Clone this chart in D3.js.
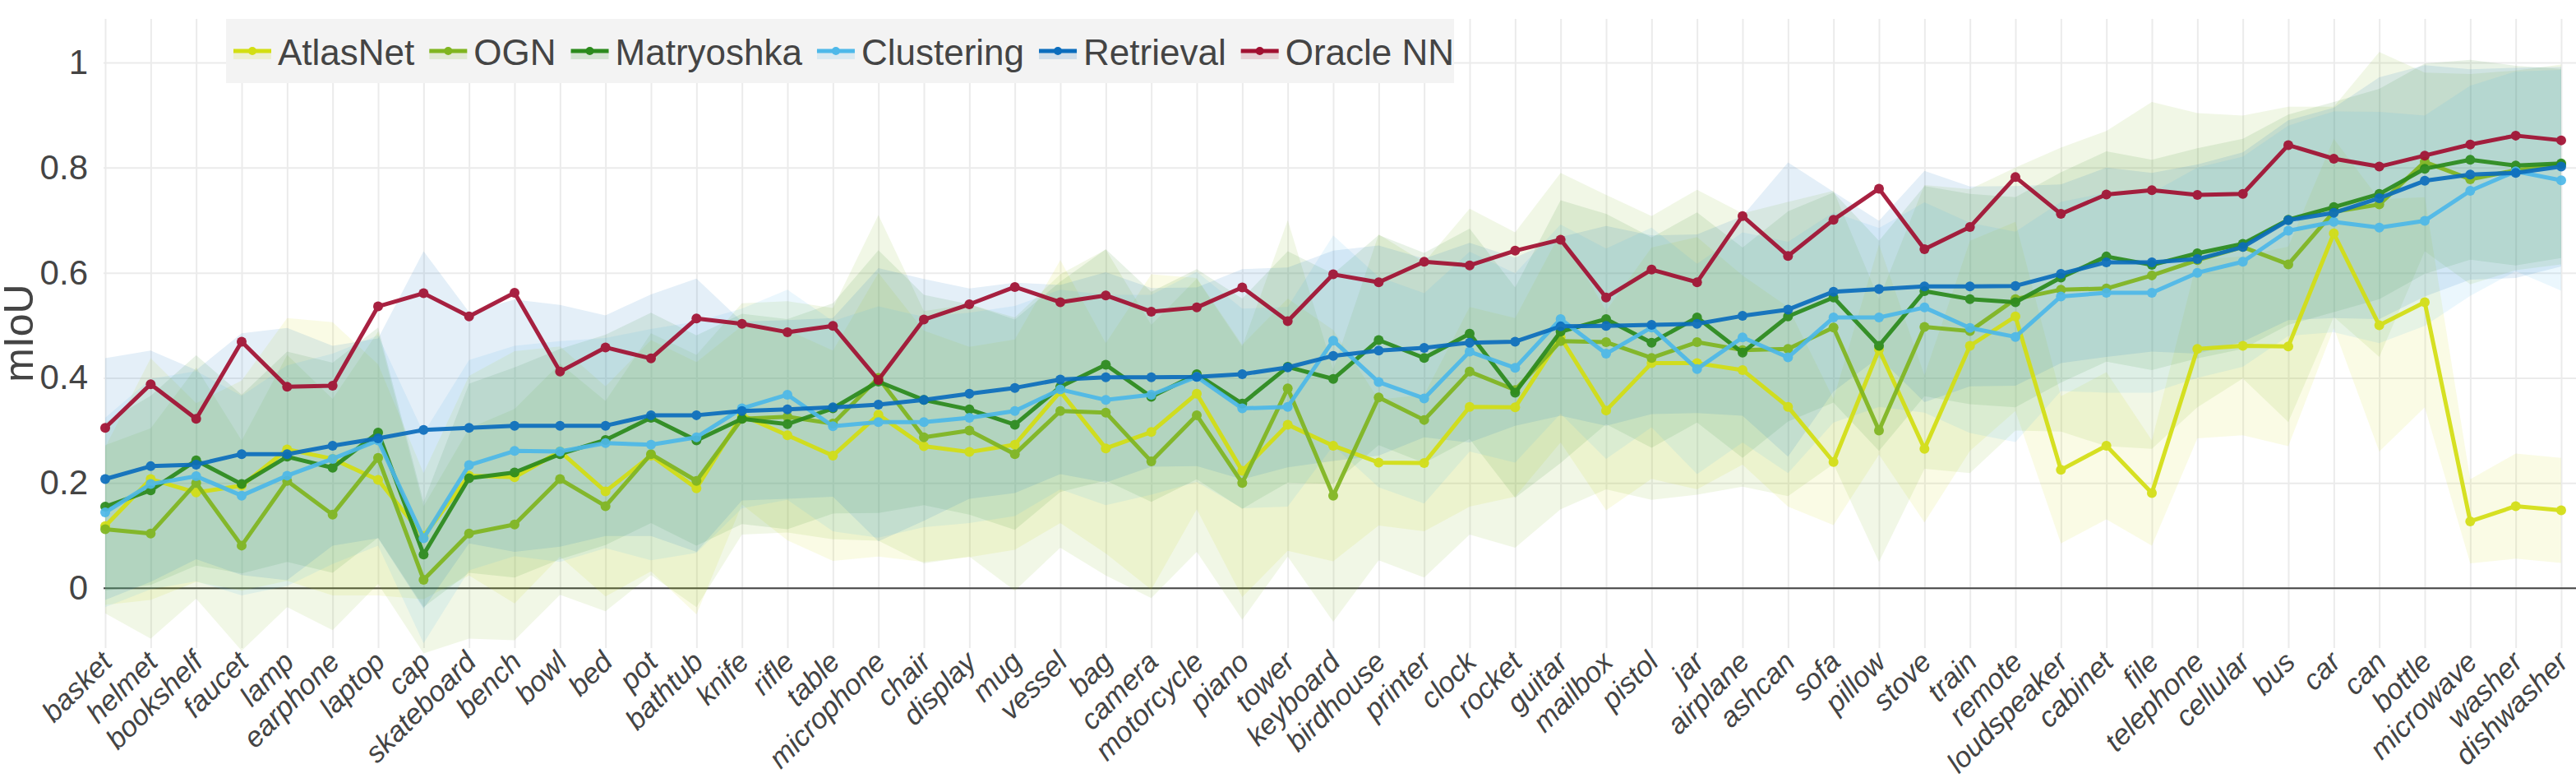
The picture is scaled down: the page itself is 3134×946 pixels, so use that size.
<!DOCTYPE html>
<html>
<head>
<meta charset="utf-8">
<script src="https://cdnjs.cloudflare.com/ajax/libs/d3/7.8.5/d3.min.js"></script>
<style>
  body { margin: 0; background: #fff; }
  svg { font-family: "Liberation Sans", Arial, sans-serif; }
</style>
</head>
<body>
<div id="chart"></div>
<script>
var categories = ['basket', 'helmet', 'bookshelf', 'faucet', 'lamp', 'earphone', 'laptop', 'cap', 'skateboard', 'bench',
    'bowl', 'bed', 'pot', 'bathtub', 'knife', 'rifle', 'table', 'microphone', 'chair', 'display',
    'mug', 'vessel', 'bag', 'camera', 'motorcycle', 'piano', 'tower', 'keyboard', 'birdhouse', 'printer',
    'clock', 'rocket', 'guitar', 'mailbox', 'pistol', 'jar', 'airplane', 'ashcan', 'sofa', 'pillow',
    'stove', 'train', 'remote', 'loudspeaker', 'cabinet', 'file', 'telephone', 'cellular', 'bus', 'car',
    'can', 'bottle', 'microwave', 'washer', 'dishwasher'];

// mean mIoU per category
var atlasnet = [.118, .2075, .182, .195, .264, .246, .206, .099, .214, .211,
    .26, .184, .252, .19, .329, .291, .252, .33, .27, .259,
    .273, .374, .266, .297, .37, .223, .311, .271, .239, .238,
    .345, .344, .477, .338, .428, .428, .415, .345, .24, .454,
    .265, .461, .517, .225, .271, .181, .455, .461, .46, .675,
    .5, .544, .127, .156, .148];
var ogn = [.112, .104, .2, .081, .204, .14, .248, .016, .104, .121,
    .2075, .156, .255, .204, .322, .326, .313, .40, .287, .3,
    .255, .337, .334, .241, .329, .2, .38, .176, .363, .32,
    .412, .377, .47, .468, .438, .468, .453, .455, .496, .3,
    .497, .489, .55, .568, .57, .595, .624, .649, .616, .716,
    .73, .811, .778, .795, .806];
var matryoshka = [.155, .186, .243, .198, .25, .229, .296, .064, .209, .22,
    .255, .282, .324, .281, .322, .312, .342, .393, .358, .34,
    .311, .383, .425, .364, .407, .351, .421, .398, .472, .438,
    .484, .372, .488, .512, .467, .515, .448, .517, .553, .461,
    .565, .55, .544, .591, .631, .615, .637, .655, .701, .725,
    .75, .798, .815, .804, .808];
var clustering = [.144, .198, .213, .176, .214, .246, .281, .095, .234, .261,
    .26, .276, .273, .287, .342, .368, .308, .316, .316, .324,
    .337, .378, .358, .368, .402, .342, .345, .471, .392, .361,
    .45, .419, .512, .446, .496, .417, .477, .439, .515, .515,
    .534, .495, .478, .555, .562, .562, .6, .621, .68, .697,
    .686, .699, .756, .793, .776];
var retrieval = [.2075, .232, .235, .255, .255, .271, .285, .301, .305, .309,
    .309, .309, .329, .329, .337, .34, .344, .349, .358, .37,
    .381, .397, .401, .401, .402, .407, .42, .442, .452, .457,
    .467, .469, .498, .499, .501, .503, .518, .53, .564, .569,
    .574, .574, .575, .598, .62, .62, .626, .649, .7, .714,
    .742, .775, .787, .79, .802];
var oracleNN = [.305, .388, .322, .469, .383, .385, .536, .561, .517, .562,
    .412, .458, .437, .513, .503, .487, .499, .396, .511, .54,
    .573, .544, .557, .526, .534, .572, .508, .597, .582, .621,
    .614, .642, .663, .553, .606, .582, .708, .632, .701, .76,
    .645, .687, .782, .712, .749, .757, .748, .75, .843, .817,
    .802, .823, .844, .861, .852];

// spread (std) per category, drawn as the shaded bands
var atlasnetStd = [.15, .23, .17, .2, .25, .26, .22, .12, .19, .24,
    .2, .2, .22, .24, .17, .2, .2, .27, .22, .2,
    .2, .25, .2, .3, .22, .24, .24, .22, .12, .13,
    .19, .17, .2, .19, .22, .24, .18, .19, .12, .2,
    .14, .2, .18, .14, .14, .1, .17, .17, .19, .18,
    .24, .2, .08, .1, .1];
var ognStd = [.16, .2, .22, .2, .24, .22, .24, .14, .2, .22,
    .22, .2, .23, .24, .22, .22, .22, .31, .24, .24,
    .26, .26, .31, .26, .26, .26, .32, .24, .31, .3,
    .31, .3, .32, .28, .27, .29, .26, .28, .26, .25,
    .27, .27, .25, .27, .3, .33, .28, .25, .3, .2,
    .29, .17, .2, .19, .19];
var matryoshkaStd = [.16, .18, .2, .17, .2, .2, .2, .1, .18, .2,
    .2, .2, .2, .2, .2, .2, .2, .25, .2, .2,
    .2, .2, .22, .2, .2, .2, .22, .2, .2, .2,
    .2, .2, .25, .2, .2, .2, .2, .2, .2, .2,
    .2, .2, .2, .2, .2, .2, .2, .2, .2, .2,
    .2, .2, .19, .19, .18];
var clusteringStd = [.18, .2, .2, .19, .21, .2, .2, .2, .2, .2,
    .21, .2, .22, .22, .19, .2, .2, .22, .2, .2,
    .2, .19, .2, .19, .2, .19, .19, .2, .2, .2,
    .19, .18, .18, .2, .19, .2, .2, .22, .2, .17,
    .2, .2, .2, .18, .19, .19, .2, .2, .2, .21,
    .22, .2, .2, .19, .21];
var retrievalStd = [.23, .22, .18, .23, .24, .19, .19, .34, .22, .24,
    .23, .21, .23, .26, .17, .17, .17, .26, .23, .2,
    .2, .18, .2, .17, .17, .2, .19, .2, .2, .17,
    .19, .16, .17, .19, .17, .17, .19, .28, .19, .13,
    .22, .19, .19, .17, .18, .17, .18, .18, .19, .2,
    .23, .22, .2, .2, .19];

var yTicks = [0, 0.2, 0.4, 0.6, 0.8, 1];

var series = [
    { name: 'AtlasNet', color: '#d3de12', mean: atlasnet, std: atlasnetStd },
    { name: 'OGN', color: '#80b51f', mean: ogn, std: ognStd },
    { name: 'Matryoshka', color: '#2b8a1c', mean: matryoshka, std: matryoshkaStd },
    { name: 'Clustering', color: '#4db8e9', mean: clustering, std: clusteringStd },
    { name: 'Retrieval', color: '#0b6dbd', mean: retrieval, std: retrievalStd },
    { name: 'Oracle NN', color: '#a10f31', mean: oracleNN, std: null }
];

var pic_width = 3134,
    pic_height = 946;

var plot = { left: 126, right: 3134, top: 23, bottom: 788 };

var x = d3.scalePoint().domain(categories).range([128, 3116]);
var y = d3.scaleLinear().domain([-0.114, 1.083]).range([plot.bottom, plot.top]);

var svg = d3.select('#chart').append('svg')
    .attr('width', pic_width)
    .attr('height', pic_height)
    .style('background', '#fff');

// grid + y labels
var yAxis = svg.append('g')
    .attr('transform', 'translate(' + plot.left + ',0)')
    .call(d3.axisLeft(y).tickValues(yTicks).tickFormat(d3.format('~g'))
        .tickSize(-(plot.right - plot.left)).tickPadding(19));
yAxis.select('.domain').remove();
yAxis.selectAll('line').attr('stroke', '#ebebeb').attr('stroke-width', 2);
yAxis.selectAll('text').attr('fill', '#444').style('font-size', '42px');

var xAxis = svg.append('g')
    .attr('transform', 'translate(0,' + plot.bottom + ')')
    .call(d3.axisBottom(x).tickSize(-(plot.bottom - plot.top)).tickPadding(0));
xAxis.select('.domain').remove();
xAxis.selectAll('line').attr('stroke', '#ebebeb').attr('stroke-width', 2);
xAxis.selectAll('text')
    .attr('y', 0).attr('dy', 0)
    .attr('transform', 'translate(10,19) rotate(-45)')
    .attr('text-anchor', 'end')
    .attr('fill', '#444')
    .style('font-size', '35px')
    .style('font-style', 'italic');

// zero line
svg.append('line')
    .attr('x1', plot.left).attr('x2', plot.right)
    .attr('y1', y(0)).attr('y2', y(0))
    .attr('stroke', '#444').attr('stroke-width', 2);

// y title
svg.append('text')
    .attr('transform', 'translate(40,' + 405 + ') rotate(-90)')
    .attr('text-anchor', 'middle')
    .attr('fill', '#444')
    .style('font-size', '50px')
    .text('mIoU');

var area = d3.area()
    .x(function(d, i) { return x(categories[i]); })
    .y0(function(d) { return y(d[0] - d[1]); })
    .y1(function(d) { return y(d[0] + d[1]); });

var line = d3.line()
    .x(function(d, i) { return x(categories[i]); })
    .y(function(d) { return y(d); });

// bands under everything
series.filter(function(s) { return s.std; }).forEach(function(s) {
    svg.append('path')
        .datum(d3.zip(s.mean, s.std))
        .attr('d', area)
        .attr('fill', s.color)
        .attr('fill-opacity', 0.11);
});

series.forEach(function(s) {
    var g = svg.append('g').attr('opacity', 0.92);
    g.append('path')
        .datum(s.mean)
        .attr('d', line)
        .attr('fill', 'none')
        .attr('stroke', s.color)
        .attr('stroke-width', 5)
        .attr('stroke-linejoin', 'round');
    g.selectAll('circle').data(s.mean)
        .enter().append('circle')
        .attr('cx', function(d, i) { return x(categories[i]); })
        .attr('cy', function(d) { return y(d); })
        .attr('r', 6)
        .attr('fill', s.color);
});

// legend
var legend = svg.append('g');
legend.append('rect')
    .attr('x', 275).attr('y', 23)
    .attr('width', 1494).attr('height', 78)
    .attr('fill', '#f3f3f3');

var lx = 284;
series.forEach(function(s) {
    var item = legend.append('g').attr('transform', 'translate(' + lx + ',0)');
    item.append('rect')
        .attr('x', 0).attr('y', 62).attr('width', 46).attr('height', 10)
        .attr('fill', s.color).attr('fill-opacity', 0.15);
    item.append('line')
        .attr('x1', 0).attr('x2', 46).attr('y1', 62).attr('y2', 62)
        .attr('stroke', s.color).attr('stroke-width', 5);
    item.append('circle')
        .attr('cx', 23).attr('cy', 62).attr('r', 5)
        .attr('fill', s.color);
    var t = item.append('text')
        .attr('x', 54).attr('y', 79)
        .attr('fill', '#444')
        .style('font-size', '44px')
        .text(s.name);
    lx += 54 + t.node().getComputedTextLength() + 18;
});
</script>
</body>
</html>
